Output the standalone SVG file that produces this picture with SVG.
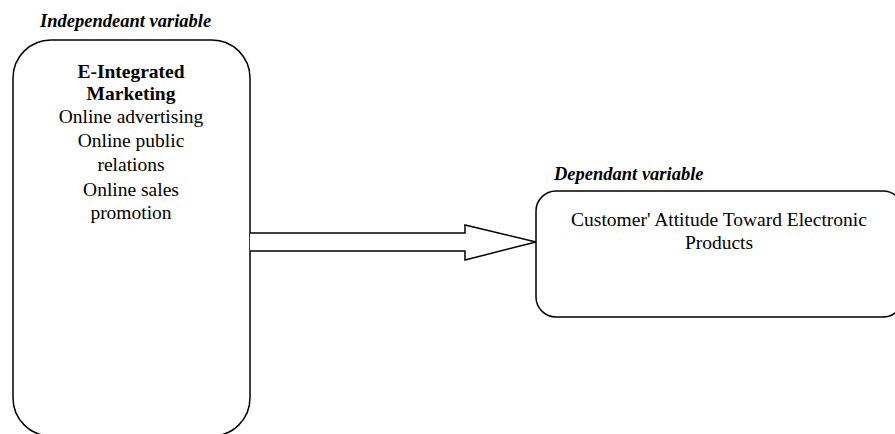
<svg xmlns="http://www.w3.org/2000/svg" width="895" height="434" viewBox="0 0 895 434">
<style>
.box{fill:#fff;stroke:#000;stroke-width:1.5}
.t{font-family:"Liberation Serif","Times New Roman",serif;font-size:19.5px;fill:#000;text-anchor:middle}
.b{font-weight:bold}
.lbl{font-family:"Liberation Serif","Times New Roman",serif;font-size:18.5px;font-weight:bold;font-style:italic;fill:#000}
</style>
<rect width="895" height="434" fill="#fff"/>
<text class="lbl" x="40" y="27">Independeant variable</text>
<text class="lbl" x="554" y="180">Dependant variable</text>
<g id="independent">
<rect class="box" x="13" y="40" width="237" height="396" rx="38" ry="38"/>
<text class="t b" x="131" y="78">E-Integrated</text>
<text class="t b" x="131" y="100">Marketing</text>
<text class="t" x="131" y="123">Online advertising</text>
<text class="t" x="131" y="147">Online public</text>
<text class="t" x="131" y="171">relations</text>
<text class="t" x="131" y="196">Online sales</text>
<text class="t" x="131" y="219">promotion</text>
</g>
<g id="dependent">
<rect class="box" x="536" y="191" width="367" height="126" rx="20" ry="20"/>
<text class="t" x="719" y="226">Customer' Attitude Toward Electronic</text>
<text class="t" x="719" y="249">Products</text>
</g>
<g id="connectors">
<path d="M250,233 L465,233 L465,225 L536,242 L465,260 L465,251 L250,251" fill="#fff" stroke="#000" stroke-width="1.5" stroke-linejoin="miter"/>
</g>
</svg>
